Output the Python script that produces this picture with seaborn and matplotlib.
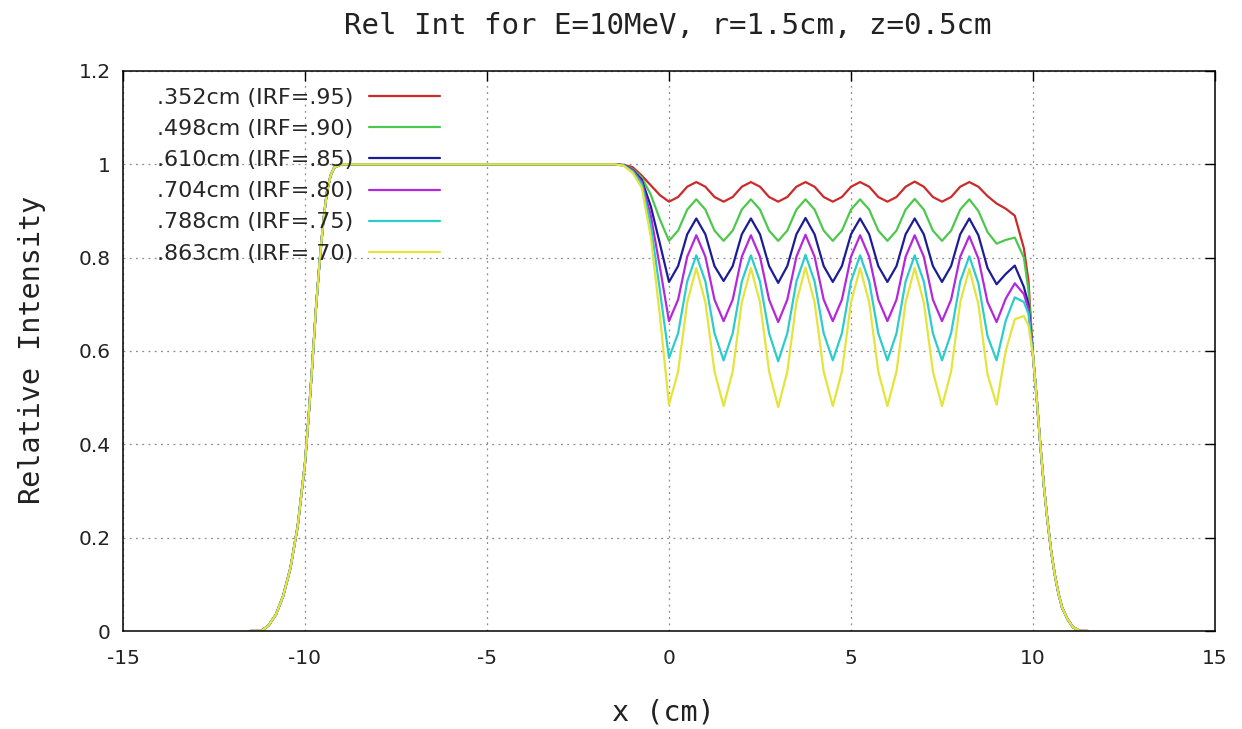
import numpy as np
import pandas as pd
import matplotlib
matplotlib.use("Agg")
import matplotlib.pyplot as plt
from matplotlib.lines import Line2D
import seaborn as sns

# ---- data -------------------------------------------------------------
series_labels = [
    ".352cm (IRF=.95)",
    ".498cm (IRF=.90)",
    ".610cm (IRF=.85)",
    ".704cm (IRF=.80)",
    ".788cm (IRF=.75)",
    ".863cm (IRF=.70)",
]
series_colors = ["#cc2a2a", "#4cc84c", "#1c1c96", "#b428dc", "#2ccccc", "#e4e43c"]

# rising edge on the left, common to all collimator sizes
left_x = [-11.5, -11.2, -11.0, -10.8, -10.6, -10.4, -10.2, -10.0, -9.9, -9.8,
          -9.7, -9.6, -9.5, -9.4, -9.3, -9.2, -9.0, -6.0, -3.0, -1.75]
left_y = [0.0, 0.0, 0.012, 0.035, 0.075, 0.135, 0.225, 0.36, 0.46, 0.57,
          0.69, 0.79, 0.875, 0.94, 0.975, 0.993, 1.0, 1.0, 1.0, 1.0]

# falling edge on the right, common to all collimator sizes
right_x = [10.0, 10.1, 10.2, 10.3, 10.4, 10.5, 10.6, 10.7, 10.8, 10.95, 11.1, 11.3, 11.5]
right_y = [0.59, 0.50, 0.40, 0.31, 0.235, 0.17, 0.12, 0.08, 0.05, 0.025, 0.008, 0.0, 0.0]

# ripple region, sampled every 0.25 cm from -1.5 to 9.75, plus 9.875
ripple_x = [-1.5, -1.25, -1.0, -0.75, -0.5, -0.25, 0.0,
            0.25, 0.5, 0.75, 1.0, 1.25, 1.5,
            1.75, 2.0, 2.25, 2.5, 2.75, 3.0,
            3.25, 3.5, 3.75, 4.0, 4.25, 4.5,
            4.75, 5.0, 5.25, 5.5, 5.75, 6.0,
            6.25, 6.5, 6.75, 7.0, 7.25, 7.5,
            7.75, 8.0, 8.25, 8.5, 8.75, 9.0, 9.25, 9.5, 9.75, 9.875]

ripple_352 = [1.0, 0.999, 0.994, 0.976, 0.955, 0.934, 0.920,
              0.930, 0.952, 0.962, 0.952, 0.930, 0.920,
              0.930, 0.952, 0.962, 0.952, 0.930, 0.920,
              0.930, 0.952, 0.962, 0.952, 0.930, 0.920,
              0.930, 0.952, 0.962, 0.952, 0.930, 0.920,
              0.930, 0.952, 0.963, 0.952, 0.930, 0.920,
              0.930, 0.952, 0.962, 0.952, 0.932, 0.916, 0.905, 0.890, 0.820, 0.750]

ripple_498 = [1.0, 0.998, 0.990, 0.972, 0.935, 0.882, 0.836,
              0.858, 0.903, 0.925, 0.903, 0.858, 0.836,
              0.858, 0.903, 0.925, 0.903, 0.858, 0.836,
              0.858, 0.903, 0.925, 0.903, 0.858, 0.836,
              0.858, 0.903, 0.925, 0.903, 0.858, 0.836,
              0.858, 0.903, 0.926, 0.903, 0.858, 0.836,
              0.858, 0.903, 0.925, 0.900, 0.855, 0.830, 0.838, 0.843, 0.800, 0.730]

ripple_610 = [1.0, 0.998, 0.988, 0.967, 0.910, 0.830, 0.748,
              0.782, 0.850, 0.884, 0.850, 0.782, 0.750,
              0.782, 0.850, 0.884, 0.850, 0.782, 0.746,
              0.782, 0.850, 0.885, 0.850, 0.782, 0.748,
              0.782, 0.850, 0.884, 0.850, 0.782, 0.748,
              0.782, 0.850, 0.884, 0.850, 0.782, 0.748,
              0.782, 0.850, 0.884, 0.848, 0.778, 0.743, 0.765, 0.783, 0.737, 0.700]

ripple_704 = [1.0, 0.998, 0.987, 0.963, 0.890, 0.780, 0.664,
              0.710, 0.802, 0.848, 0.802, 0.710, 0.664,
              0.710, 0.802, 0.848, 0.802, 0.710, 0.662,
              0.710, 0.802, 0.849, 0.802, 0.710, 0.664,
              0.710, 0.802, 0.848, 0.802, 0.710, 0.664,
              0.710, 0.802, 0.848, 0.802, 0.710, 0.664,
              0.710, 0.802, 0.846, 0.798, 0.705, 0.662, 0.712, 0.745, 0.722, 0.690]

ripple_788 = [1.0, 0.998, 0.985, 0.958, 0.870, 0.730, 0.585,
              0.638, 0.749, 0.805, 0.749, 0.638, 0.580,
              0.638, 0.749, 0.805, 0.749, 0.638, 0.578,
              0.638, 0.749, 0.806, 0.749, 0.638, 0.580,
              0.638, 0.749, 0.805, 0.749, 0.638, 0.580,
              0.638, 0.749, 0.805, 0.749, 0.638, 0.580,
              0.638, 0.749, 0.803, 0.745, 0.632, 0.580, 0.665, 0.715, 0.705, 0.680]

ripple_863 = [1.0, 0.997, 0.982, 0.950, 0.845, 0.675, 0.485,
              0.556, 0.704, 0.778, 0.704, 0.556, 0.482,
              0.556, 0.704, 0.778, 0.704, 0.556, 0.480,
              0.556, 0.704, 0.779, 0.704, 0.556, 0.482,
              0.556, 0.704, 0.778, 0.704, 0.556, 0.482,
              0.556, 0.704, 0.778, 0.704, 0.556, 0.482,
              0.556, 0.704, 0.776, 0.700, 0.550, 0.485, 0.600, 0.668, 0.675, 0.655]

ripples = [ripple_352, ripple_498, ripple_610, ripple_704, ripple_788, ripple_863]

x_ticks = [-15, -10, -5, 0, 5, 10, 15]
y_ticks = [0.0, 0.2, 0.4, 0.6, 0.8, 1.0, 1.2]
y_tick_labels = ["0", "0.2", "0.4", "0.6", "0.8", "1", "1.2"]

# ---- long-form table ----------------------------------------------------
frames = []
for label, rip in zip(series_labels, ripples):
    xs = left_x + ripple_x + right_x
    ys = left_y + rip + right_y
    frames.append(pd.DataFrame({"x": xs, "intensity": ys, "size": label}))
df = pd.concat(frames, ignore_index=True)

# ---- figure -------------------------------------------------------------
sns.set_theme(style="white")
plt.rcParams["font.family"] = ["DejaVu Sans"]

fig = plt.figure(figsize=(12.42, 7.29), dpi=100)
ax = fig.add_axes([0.09903, 0.13443, 0.87923, 0.76818])

sns.lineplot(data=df, x="x", y="intensity", hue="size", hue_order=series_labels,
             palette=series_colors, estimator=None, sort=False, linewidth=1.6,
             legend=False, ax=ax)

ax.set_xlim(-15, 15)
ax.set_ylim(0, 1.2)
ax.set_xticks(x_ticks)
ax.set_xticklabels([str(t) for t in x_ticks])
ax.set_yticks(y_ticks)
ax.set_yticklabels(y_tick_labels)
ax.set_xlabel("")
ax.set_ylabel("")

ax.grid(True, linestyle=(0, (1.5, 3.5)), color="#8c8c8c", linewidth=0.9)
ax.set_axisbelow(True)
for sp in ax.spines.values():
    sp.set_color("black")
    sp.set_linewidth(1.1)
    sp.set_visible(True)
ax.tick_params(axis="both", which="major", direction="in", length=7, width=1.0,
               top=True, right=True, labelsize=14.5, colors="black",
               labelcolor="#222222")
ax.tick_params(axis="x", pad=13)
ax.tick_params(axis="y", pad=9)

mono = ["DejaVu Sans Mono"]
fig.text(0.538, 0.965, "Rel Int for E=10MeV, r=1.5cm, z=0.5cm", ha="center",
         va="center", fontsize=21, family=mono, color="#222222")
fig.text(0.026, 0.52, "Relative Intensity", ha="center", va="center",
         rotation=90, fontsize=20.5, family=mono, color="#222222")
fig.text(0.534, 0.022, "x (cm)", ha="center", va="center", fontsize=20.5,
         family=mono, color="#222222")

handles = [Line2D([0], [0], color=c, linewidth=1.6) for c in series_colors]
ax.legend(handles, series_labels, loc="upper right",
          bbox_to_anchor=(440 / 1242, 1 - 88 / 729), bbox_transform=fig.transFigure,
          frameon=False, markerfirst=False, fontsize=16, handlelength=3.2,
          handletextpad=0.7, labelspacing=0.5, borderpad=0, borderaxespad=0)

fig.savefig("out.png", dpi=100, facecolor="white")
